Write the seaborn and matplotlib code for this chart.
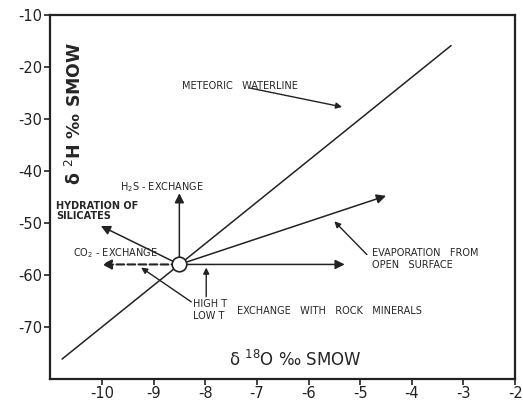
import seaborn as sns
import matplotlib.pyplot as plt
import pandas as pd

# data
mwl_x = [-10.77, -3.24]
mwl_y = [-76.2, -15.9]
origin_x = [-8.5]
origin_y = [-58.0]

# process vectors: (name, end x, end y, dashed)
vec_names = ["H2S", "rock", "CO2", "silicates", "evaporation"]
vec_x = [-8.5, -5.3, -10.0, -10.02, -4.5]
vec_y = [-44.3, -58.0, -58.0, -50.6, -44.8]
vec_dash = [False, False, True, False, False]

# pointer arrows from labels: start x, start y, end x, end y
ptr_x0 = [-7.12, -4.87, -7.98, -8.27]
ptr_y0 = [-24.1, -56.1, -64.2, -65.2]
ptr_x1 = [-5.35, -5.5, -7.98, -9.24]
ptr_y1 = [-27.7, -49.7, -58.6, -58.6]

xticks = [-10, -9, -8, -7, -6, -5, -4, -3, -2]
yticks = [-10, -20, -30, -40, -50, -60, -70]

sns.set_theme(style="ticks")
plt.rcParams['font.family'] = ['DejaVu Sans']

fig = plt.figure(figsize=(5.23, 4.03), dpi=100)
ax = fig.add_axes([0.096, 0.06, 0.889, 0.903])

mwl = pd.DataFrame({"x": mwl_x, "y": mwl_y})
sns.lineplot(data=mwl, x="x", y="y", color="#222222", lw=1.1, ax=ax)

for n, ex, ey, d in zip(vec_names, vec_x, vec_y, vec_dash):
    ax.annotate("", xy=(ex, ey), xytext=(origin_x[0], origin_y[0]),
                arrowprops=dict(arrowstyle="-|>", color="#222222", lw=1.5 if d else 1.1,
                                linestyle="--" if d else "-", mutation_scale=14,
                                shrinkA=0, shrinkB=0))

for x0, y0, x1, y1 in zip(ptr_x0, ptr_y0, ptr_x1, ptr_y1):
    ax.annotate("", xy=(x1, y1), xytext=(x0, y0),
                arrowprops=dict(arrowstyle="-|>", color="#222222", lw=1.0,
                                mutation_scale=9, shrinkA=0, shrinkB=0))

pts = pd.DataFrame({"x": origin_x, "y": origin_y})
sns.scatterplot(data=pts, x="x", y="y", s=110, facecolor="white", edgecolor="#222222",
                linewidth=1.2, zorder=5, ax=ax)

fs = 7
ax.text(-7.33, -23.7, "METEORIC   WATERLINE", fontsize=fs, ha="center", va="center")
ax.text(-8.83, -43.1, "H$_2$S - EXCHANGE", fontsize=fs, ha="center", va="center")
ax.text(-10.88, -47.7, "HYDRATION OF\nSILICATES", fontsize=fs, ha="left", va="center",
        fontweight="bold", linespacing=0.95)
ax.text(-9.73, -55.8, "CO$_2$ - EXCHANGE", fontsize=fs, ha="center", va="center")
ax.text(-4.77, -57.0, "EVAPORATION   FROM\nOPEN   SURFACE", fontsize=fs, ha="left",
        va="center", linespacing=1.3)
ax.text(-8.24, -66.8, "HIGH T\nLOW T", fontsize=fs, ha="left", va="center", linespacing=1.2)
ax.text(-7.38, -66.9, "EXCHANGE   WITH   ROCK   MINERALS", fontsize=fs, ha="left", va="center")

ax.text(-10.53, -29, "δ $^2$H ‰ SMOW", fontsize=12.5, rotation=90, ha="center", va="center",
        fontweight="bold")
ax.text(-6.26, -76.4, "δ $^{18}$O ‰ SMOW", fontsize=12, ha="center", va="center")

ax.set_xlim(-11, -2)
ax.set_ylim(-80, -10)
ax.set_xticks(xticks)
ax.set_yticks(yticks)
ax.set_xticklabels([str(t) for t in xticks])
ax.set_yticklabels([str(t) for t in yticks])
ax.set_xlabel("")
ax.set_ylabel("")
ax.tick_params(labelsize=10.5, length=4, width=1.2, pad=1.5, color="#222222",
               labelcolor="#222222")
for s in ax.spines.values():
    s.set_visible(True)
    s.set_linewidth(1.6)
    s.set_color("#222222")

fig.savefig("out.png", dpi=100)
